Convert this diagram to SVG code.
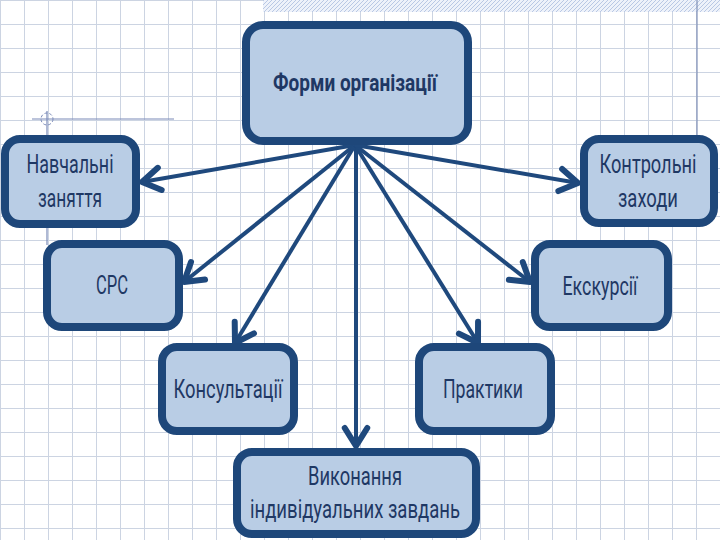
<svg xmlns="http://www.w3.org/2000/svg" width="720" height="540" viewBox="0 0 720 540">
<defs>
<pattern id="grid" patternUnits="userSpaceOnUse" x="0" y="0" width="24" height="24">
<path d="M0.5 0 V24 M0 0.5 H24" stroke="#ccd4e2" stroke-width="1" fill="none"/>
</pattern>
<pattern id="hatch" patternUnits="userSpaceOnUse" width="4" height="4">
<rect width="4" height="4" fill="#eef2fa"/>
<path d="M-1 5 L5 -1 M-1 1 L1 -1 M3 5 L5 3" stroke="#b9c8e4" stroke-width="1"/>
</pattern>
<marker id="arr" markerUnits="userSpaceOnUse" markerWidth="30" markerHeight="30" viewBox="-16 -10 20 20" refX="0" refY="0" orient="auto">
<path d="M-12,-7.5 L0,0 L-12,7.5" fill="none" stroke="#1f497d" stroke-width="4" stroke-linejoin="round" stroke-linecap="round"/>
</marker>
<style>
.box{fill:#b9cde5;stroke:#1e477a;stroke-width:8}
.t{font-family:Roboto,"Noto Sans","DejaVu Sans",sans-serif;font-size:26px;fill:#1f3864;text-anchor:middle}
.tb{font-family:Roboto,"Noto Sans","DejaVu Sans",sans-serif;font-size:24px;font-weight:bold;fill:#1f3864;text-anchor:middle}
.c{stroke:#1f497d;stroke-width:4;fill:none;marker-end:url(#arr)}
</style>
</defs>
<rect width="720" height="540" fill="#ffffff"/>
<rect width="720" height="540" fill="url(#grid)"/>
<rect x="263" y="0" width="457" height="12" fill="url(#hatch)"/>
<line x1="697" y1="0" x2="697" y2="142" stroke="#8090b8" stroke-width="1.2"/>
<g id="marker-left" stroke="#7a8ab8" fill="none">
<line x1="32" y1="119" x2="174" y2="119" stroke-width="1.2"/>
<line x1="47" y1="111" x2="47" y2="245" stroke-width="1.2"/>
<circle cx="47" cy="119" r="6" stroke-dasharray="3 2"/>
</g>
<g id="connectors">
<line class="c" x1="355" y1="145" x2="142" y2="182"/>
<line class="c" x1="355" y1="145" x2="184" y2="282"/>
<line class="c" x1="355" y1="145" x2="235" y2="343"/>
<line class="c" x1="356" y1="145" x2="356" y2="446"/>
<line class="c" x1="355" y1="145" x2="478" y2="343"/>
<line class="c" x1="355" y1="145" x2="530" y2="282"/>
<line class="c" x1="355" y1="145" x2="578" y2="183"/>
</g>
<g id="n-root">
<rect class="box" x="246" y="25" width="222" height="116" rx="17"/>
<text class="tb" transform="translate(355,91) scale(0.75,1)" textLength="218.7" lengthAdjust="spacingAndGlyphs">Форми організації</text>
</g>
<g id="n-navch">
<rect class="box" x="5" y="139" width="131" height="85" rx="15"/>
<text class="t" transform="translate(70,173) scale(0.75,1)" textLength="116" lengthAdjust="spacingAndGlyphs">Навчальні</text>
<text class="t" transform="translate(70,207) scale(0.75,1)" textLength="85.3" lengthAdjust="spacingAndGlyphs">заняття</text>
</g>
<g id="n-src">
<rect class="box" x="47" y="244" width="132" height="83" rx="15"/>
<text class="t" transform="translate(112,294) scale(0.75,1)" textLength="42.7" lengthAdjust="spacingAndGlyphs">СРС</text>
</g>
<g id="n-kontr">
<rect class="box" x="584" y="139" width="130" height="84" rx="15"/>
<text class="t" transform="translate(648,173) scale(0.75,1)" textLength="129.3" lengthAdjust="spacingAndGlyphs">Контрольні</text>
<text class="t" transform="translate(648,207) scale(0.75,1)" textLength="80" lengthAdjust="spacingAndGlyphs">заходи</text>
</g>
<g id="n-ekskurs">
<rect class="box" x="535" y="244" width="133" height="83" rx="15"/>
<text class="t" transform="translate(600,295) scale(0.75,1)" textLength="100" lengthAdjust="spacingAndGlyphs">Екскурсії</text>
</g>
<g id="n-konsult">
<rect class="box" x="162" y="347" width="132" height="84" rx="15"/>
<text class="t" transform="translate(228,398) scale(0.75,1)" textLength="145.3" lengthAdjust="spacingAndGlyphs">Консультації</text>
</g>
<g id="n-prakt">
<rect class="box" x="419" y="347" width="132" height="84" rx="15"/>
<text class="t" transform="translate(483,398) scale(0.75,1)" textLength="106.7" lengthAdjust="spacingAndGlyphs">Практики</text>
</g>
<g id="n-vykon">
<rect class="box" x="237" y="452" width="239" height="82" rx="15"/>
<text class="t" transform="translate(355,485) scale(0.75,1)" textLength="125.3" lengthAdjust="spacingAndGlyphs">Виконання</text>
<text class="t" transform="translate(355,518) scale(0.75,1)" textLength="280" lengthAdjust="spacingAndGlyphs">індивідуальних завдань</text>
</g>
</svg>
